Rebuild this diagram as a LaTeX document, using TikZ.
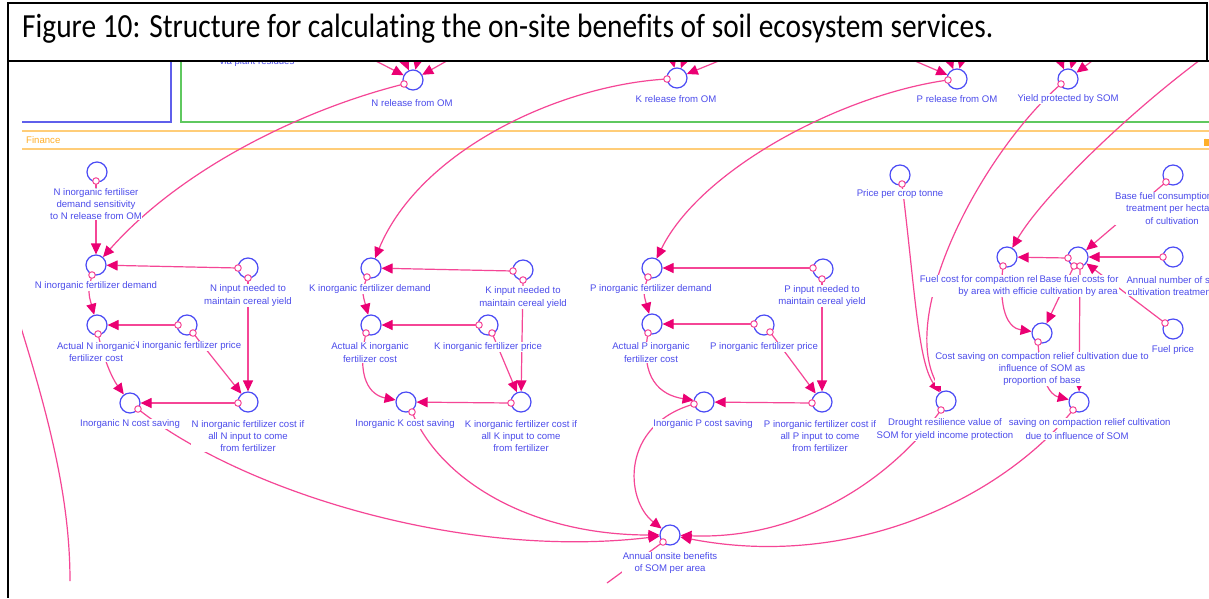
\documentclass[tikz,border=0pt]{standalone}
\usepackage{fontspec}
\setmainfont{Liberation Sans}
\newfontfamily\capfont[Ligatures=NoCommon]{Carlito}
\usepackage{graphicx}
\usetikzlibrary{arrows.meta}
\definecolor{cblue}{RGB}{75,75,245}
\definecolor{ctext}{RGB}{75,75,235}
\definecolor{cline}{RGB}{245,70,150}
\definecolor{chead}{RGB}{235,0,115}
\definecolor{cgreen}{RGB}{95,200,95}
\definecolor{cbox}{RGB}{95,95,235}
\definecolor{corange}{RGB}{255,205,120}
\definecolor{corangetext}{RGB}{255,175,40}
\tikzset{
 var/.style={circle, draw=cblue, line width=1.2pt, minimum size=20pt, inner sep=0pt},
 org/.style={circle, draw=cline, fill=white, line width=1pt, minimum size=6.5pt, inner sep=0pt},
 lbl/.style={font=\fontsize{9.6}{12.2}\selectfont, text=ctext, align=center, fill=white, inner sep=0.6pt},
 conn/.style={draw=cline, line width=1.2pt, -{Triangle[length=11pt,width=10pt,color=chead]}},
 plainline/.style={draw=cline, line width=1.2pt},
}
\begin{document}
\begin{tikzpicture}[x=1pt,y=-1pt]
\useasboundingbox (0,0) rectangle (1209,598);
\fill[white] (0,0) rectangle (1209,598);
% caption frame
\draw[line width=2pt] (8,3) -- (1207,3) -- (1207,61);
\draw[line width=2pt] (8,61) -- (1209,61);
\draw[line width=2pt] (8,2) -- (8,598);
\node[anchor=west, inner sep=0pt] (caption) at (22,29) {\scalebox{1}[1.15]{\resizebox{971pt}{!}{\capfont Figure 10: Structure for calculating the on-site benefits of soil ecosystem services.}}};

\begin{scope}
\clip (22,62) rectangle (1209,598);
% sector boxes
\draw[cbox, line width=1.3pt] (171,40) -- (171,122) -- (10,122);
\draw[cgreen, line width=1.3pt] (181,40) -- (181,122) -- (1215,122);
\node[lbl, fill=none] (viatext) at (257,62.5) {via plant residues};
% finance band
\draw[corange, line width=1.8pt] (10,131) -- (1215,131);
\draw[corange, line width=1.8pt] (10,149) -- (1215,149);
\node[font=\fontsize{9.6}{12}\selectfont, text=corangetext, anchor=west, inner sep=0pt] (finance) at (26,140) {Finance};
\fill[corangetext] (1204,139) rectangle (1210,146);
\draw[corangetext, line width=1pt] (1205,139) arc (180:90:3);

% ---------- variable circles ----------
\node[var] (nrel) at (413,80) {};
\node[var] (krel) at (677,78) {};
\node[var] (prel) at (957,79) {};
\node[var] (yld) at (1068,79) {};

\node[var] (nsen) at (97,172) {};
\node[var] (ndem) at (96,265) {};
\node[var] (ninp) at (248,268) {};
\node[var] (nact) at (97,325) {};
\node[var] (npri) at (187,325) {};
\node[var] (nsav) at (130,403) {};
\node[var] (ncst) at (248,402) {};

\node[var] (kdem) at (371,268) {};
\node[var] (kinp) at (523,270) {};
\node[var] (kact) at (371,325) {};
\node[var] (kpri) at (488,325) {};
\node[var] (ksav) at (406,402) {};
\node[var] (kcst) at (521,402) {};

\node[var] (pdem) at (652,268) {};
\node[var] (pinp) at (823,269) {};
\node[var] (pact) at (652,324) {};
\node[var] (ppri) at (764,325) {};
\node[var] (psav) at (704,402) {};
\node[var] (pcst) at (822,402) {};

\node[var] (price) at (900,175) {};
\node[var] (drou) at (946,401) {};
\node[var] (fuel) at (1007,257) {};
\node[var] (base) at (1078,257) {};
\node[var] (bcon) at (1173,175) {};
\node[var] (anum) at (1173,257) {};
\node[var] (fpri) at (1173,329) {};
\node[var] (csav) at (1042,333) {};
\node[var] (savc) at (1079,402) {};
\node[var] (ann) at (670,535) {};

% ---------- origin points ----------
\coordinate (norg) at (404,84);
\coordinate (korg) at (667,79);
\coordinate (porg) at (948,80);
\coordinate (yorg) at (1061,84);
\coordinate (nseno) at (96,181);
\coordinate (ndemo) at (92,275);
\coordinate (ninpa) at (238,268);
\coordinate (ninpb) at (248,278);
\coordinate (nacto) at (98,334);
\coordinate (npria) at (178,325);
\coordinate (nprib) at (193,333);
\coordinate (nsavo) at (138,409);
\coordinate (ncsto) at (238,403);
\coordinate (kdemo) at (367,277);
\coordinate (kinpa) at (513,271);
\coordinate (kinpb) at (523,280);
\coordinate (kacto) at (366,333);
\coordinate (kpria) at (479,325);
\coordinate (kprib) at (492,333);
\coordinate (ksavo) at (412,412);
\coordinate (kcsto) at (511,403);
\coordinate (pdemo) at (648,277);
\coordinate (pinpa) at (813,268);
\coordinate (pinpb) at (822,279);
\coordinate (pacto) at (648,333);
\coordinate (ppria) at (754,324);
\coordinate (pprib) at (770,332);
\coordinate (psavo) at (694,404);
\coordinate (pcsto) at (812,403);
\coordinate (priceo) at (902,184);
\coordinate (drouo) at (941,410);
\coordinate (fuelo) at (1003,266);
\coordinate (baseoa) at (1068,258);
\coordinate (baseob) at (1074,266);
\coordinate (baseoc) at (1080,266);
\coordinate (bcono) at (1166,182);
\coordinate (anumo) at (1163,257);
\coordinate (fprio) at (1165,323);
\coordinate (csavo) at (1038,342);
\coordinate (savco) at (1073,410);
\coordinate (anno) at (663,542);

% free ends
\coordinate (tn1) at (370,58);
\coordinate (tn2) at (400,50);
\coordinate (tn3) at (420,50);
\coordinate (tn4) at (452,58);
\coordinate (tk1) at (670,50);
\coordinate (tk2) at (688,50);
\coordinate (tk3) at (726,58);
\coordinate (tp1) at (908,58);
\coordinate (tp2) at (946,50);
\coordinate (tp3) at (964,50);
\coordinate (ty1) at (1056,50);
\coordinate (ty2) at (1076,50);
\coordinate (ty3) at (1096,58);
\coordinate (tr) at (1200,60);
\coordinate (annend) at (607,583);
\coordinate (lstart) at (18,318);
\coordinate (lend) at (70,581);

% ---------- connectors ----------
\draw[conn] (tn1) -- (nrel);
\draw[conn] (tn2) -- (nrel);
\draw[conn] (tn3) -- (nrel);
\draw[conn] (tn4) -- (nrel);
\draw[conn] (tk1) -- (krel);
\draw[conn] (tk2) -- (krel);
\draw[conn] (tk3) -- (krel);
\draw[conn] (tp1) -- (prel);
\draw[conn] (tp2) -- (prel);
\draw[conn] (tp3) -- (prel);
\draw[conn] (ty1) -- (yld);
\draw[conn] (ty2) -- (yld);
\draw[conn] (ty3) -- (yld);

\draw[conn] (norg) .. controls (300,110) and (180,170) .. (ndem);
\draw[conn] (korg) .. controls (560,85) and (420,150) .. (kdem);
\draw[conn] (porg) .. controls (840,95) and (700,170) .. (pdem);

\draw[conn] (nseno) -- (ndem);
\draw[conn] (ninpa) -- (ndem);
\draw[conn] (ndemo) .. controls (88,292) .. (nact);
\draw[conn] (npria) -- (nact);
\draw[conn] (nacto) .. controls (104,360) and (112,378) .. (nsav);
\draw[conn] (nprib) -- (ncst);
\draw[conn] (ninpb) -- (ncst);
\draw[conn] (ncsto) -- (nsav);
\draw[conn] (nsavo) .. controls (240,490) and (460,560) .. (ann);

\draw[conn] (kinpa) -- (kdem);
\draw[conn] (kdemo) .. controls (362,292) .. (kact);
\draw[conn] (kpria) -- (kact);
\draw[conn] (kacto) .. controls (356,378) and (370,395) .. (ksav);
\draw[conn] (kprib) -- (kcst);
\draw[conn] (kinpb) -- (kcst);
\draw[conn] (kcsto) -- (ksav);
\draw[conn] (ksavo) .. controls (440,480) and (530,535) .. (ann);

\draw[conn] (pinpa) -- (pdem);
\draw[conn] (pdemo) .. controls (643,292) .. (pact);
\draw[conn] (ppria) -- (pact);
\draw[conn] (pacto) .. controls (640,378) and (660,395) .. (psav);
\draw[conn] (pprib) -- (pcst);
\draw[conn] (pinpb) -- (pcst);
\draw[conn] (pcsto) -- (psav);
\draw[conn] (psavo) .. controls (620,425) and (625,500) .. (ann);

\draw[conn] (priceo) .. controls (915,290) and (918,362) .. (drou);
\draw[conn] (yorg) .. controls (985,150) and (898,310) .. (drou);
\draw[conn] (tr) .. controls (1120,120) and (1040,200) .. (fuel);
\draw[conn] (baseoa) -- (fuel);
\draw[conn] (bcono) -- (base);
\draw[conn] (anumo) -- (base);
\draw[conn] (fprio) -- (base);
\draw[conn] (fuelo) .. controls (998,310) and (1008,328) .. (csav);
\draw[conn] (baseob) -- (csav);
\draw[conn] (baseoc) -- (savc);
\draw[conn] (csavo) .. controls (1040,380) and (1050,395) .. (savc);
\draw[conn] (drouo) .. controls (890,480) and (800,540) .. (ann);
\draw[conn] (savco) .. controls (1000,500) and (850,570) .. (ann);
\draw[plainline] (anno) -- (annend);
\draw[plainline] (lstart) .. controls (50,420) and (70,500) .. (lend);

% ---------- labels ----------
\node[lbl] (nrelL) at (412,103) {N release from OM};
\node[lbl] (krelL) at (676,99) {K release from OM};
\node[lbl] (prelL) at (957,99) {P release from OM};
\node[lbl] (yldL) at (1068,99) {Yield protected by SOM};

\node[lbl] (nsenL) at (96,204) {N inorganic fertiliser\\demand sensitivity\\to N release from OM};
\node[lbl] (ndemL) at (96,286) {N inorganic fertilizer demand};
\node[lbl] (ninpL) at (248,295.5) {N input needed to\\maintain cereal yield};
\node[lbl] (npriL) at (187,346) {N inorganic fertilizer price};
\node[lbl] (nactL) at (96,352) {Actual N inorganic\\fertilizer cost};
\node[lbl] (nsavL) at (130,424) {Inorganic N cost saving};
\node[lbl] (ncstL) at (248,436) {N inorganic fertilizer cost if\\all N input to come\\from fertilizer};

\node[lbl] (kdemL) at (370,289) {K inorganic fertilizer demand};
\node[lbl] (kinpL) at (523,297.5) {K input needed to\\maintain cereal yield};
\node[lbl] (kactL) at (370,352.5) {Actual K inorganic\\fertilizer cost};
\node[lbl] (kpriL) at (488,347) {K inorganic fertilizer price};
\node[lbl] (ksavL) at (405,424) {Inorganic K cost saving};
\node[lbl] (kcstL) at (521,436) {K inorganic fertilizer cost if\\all K input to come\\from fertilizer};

\node[lbl] (pdemL) at (651,289) {P inorganic fertilizer demand};
\node[lbl] (pinpL) at (822,296) {P input needed to\\maintain cereal yield};
\node[lbl] (pactL) at (651,352.5) {Actual P inorganic\\fertilizer cost};
\node[lbl] (ppriL) at (764,347) {P inorganic fertilizer price};
\node[lbl] (psavL) at (703,424) {Inorganic P cost saving};
\node[lbl] (pcstL) at (820,436) {P inorganic fertilizer cost if\\all P input to come\\from fertilizer};

\node[lbl] (priceL) at (900,194) {Price per crop tonne};
\node[lbl] (bconL) at (1172,208.5) {Base fuel consumption per\\treatment per hectare\\of cultivation};
\node[lbl, align=right, anchor=east] (fuelL) at (1038.5,286) {Fuel cost for compaction rel\\by area with efficie};
\node[lbl] (baseL) at (1079,286) {Base fuel costs for\\cultivation by area};
\node[lbl] (anumL) at (1173,286) {Annual number of soil\\cultivation treatments};
\node[lbl] (fpriL) at (1173,350) {Fuel price};
\node[lbl, inner sep=0.2pt] (csavL) at (1042,369) {Cost saving on compaction relief cultivation due to\\influence of SOM as\\proportion of base};
\node[lbl] (drouL) at (945,429.5) {Drought resilience value of\\SOM for yield income protection};
\node[lbl, anchor=west] (savcL1) at (1008,423) {saving on compaction relief cultivation};
\node[lbl] (savcL2) at (1077,436) {due to influence of SOM};
\node[lbl] (annL) at (670,563) {Annual onsite benefits\\of SOM per area};

% ---------- origin circles ----------
\foreach \o in {norg,korg,porg,yorg,nseno,ndemo,ninpa,ninpb,nacto,npria,nprib,nsavo,ncsto,
  kdemo,kinpa,kinpb,kacto,kpria,kprib,ksavo,kcsto,pdemo,pinpa,pinpb,pacto,ppria,pprib,psavo,pcsto,
  priceo,drouo,fuelo,baseoa,baseob,baseoc,bcono,anumo,fprio,csavo,savco,anno}
  {\node[org] (\o C) at (\o) {};}
\end{scope}
\end{tikzpicture}
\end{document}
